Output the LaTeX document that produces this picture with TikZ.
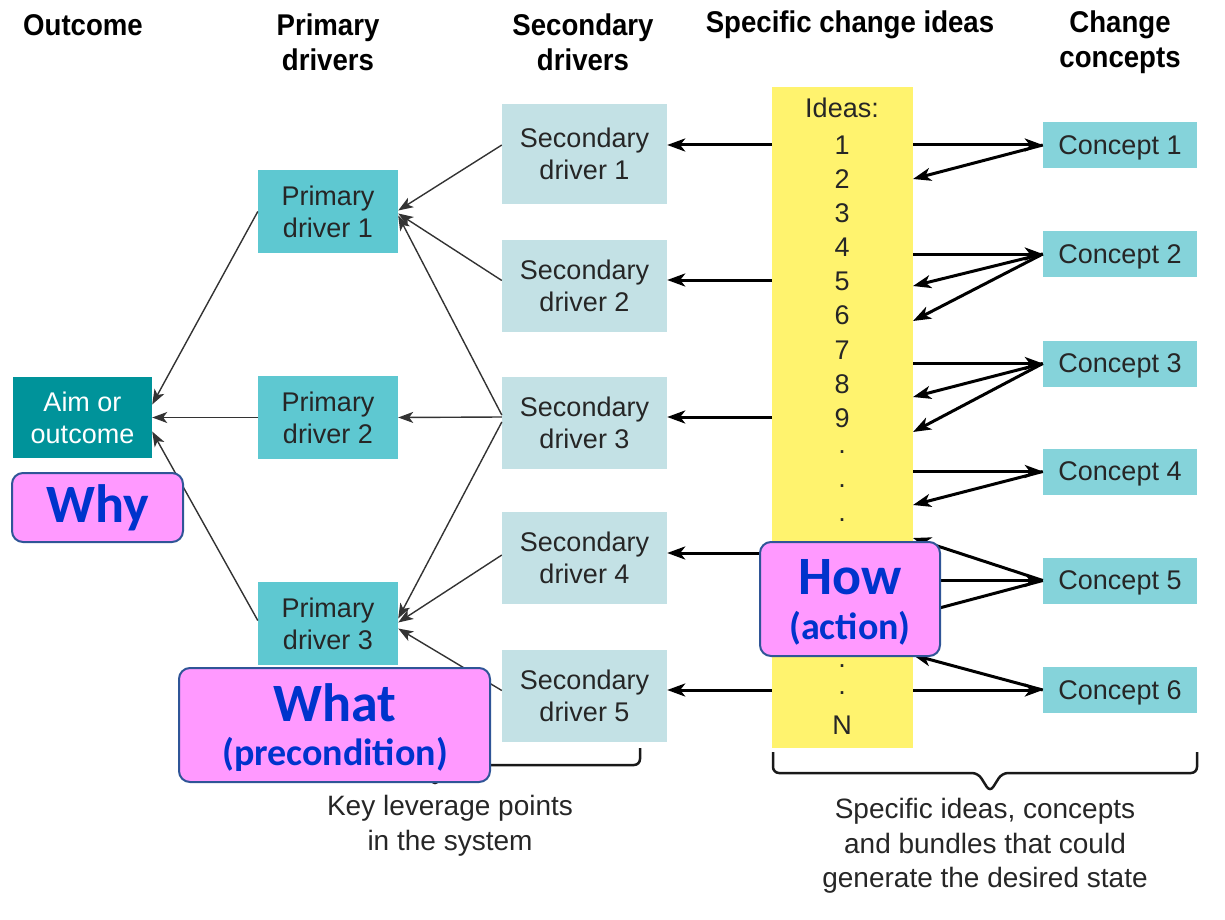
\documentclass[tikz,border=0pt]{standalone}
\usepackage{fontspec}
\setmainfont{Liberation Sans}
\newfontfamily\headfont[FakeStretch=0.92]{Liberation Sans}
\newfontfamily\calloutfont{Carlito}
\usetikzlibrary{arrows.meta}
\definecolor{aimcol}{HTML}{00939A}
\definecolor{primcol}{HTML}{5EC8D1}
\definecolor{seccol}{HTML}{C3E1E5}
\definecolor{conccol}{HTML}{85D3DA}
\definecolor{ideacol}{HTML}{FFF36E}
\definecolor{pinkfill}{HTML}{FF99FF}
\definecolor{pinkedge}{HTML}{2F5597}
\definecolor{calloutblue}{HTML}{0033CC}
\definecolor{boxtext}{HTML}{262626}
\begin{document}
\begin{tikzpicture}[x=1pt,y=-1pt,
  boxbase/.style={inner sep=0pt, align=center, text=boxtext,
    font=\fontsize{27}{32}\selectfont},
  aimbox/.style={boxbase, fill=aimcol, text=white, minimum width=139pt, minimum height=81pt},
  prim/.style={boxbase, fill=primcol, minimum width=140pt, minimum height=83pt},
  sec/.style={boxbase, fill=seccol, minimum width=165pt, minimum height=92pt},
  conc/.style={boxbase, fill=conccol, minimum width=154pt, minimum height=46pt, text depth=0pt},
  head/.style={align=center, inner sep=0pt, font=\headfont\bfseries\fontsize{30}{35}\selectfont},
  num/.style={inner sep=0pt, text=boxtext, font=\fontsize{27}{32}\selectfont},
  note/.style={align=center, inner sep=0pt, text=boxtext, font=\fontsize{28}{34.5}\selectfont},
  thinarrow/.style={draw=black!80, line width=1.4pt, -{Stealth[length=15pt,width=11pt,inset=4pt]}},
  thickarrow/.style={draw=black, line width=3pt, -{Stealth[length=18pt,width=13pt,inset=5pt]}},
  brace/.style={draw=black!90, line width=2.5pt, rounded corners=6pt},
  callout/.style={fill=pinkfill, draw=pinkedge, line width=2pt, rounded corners=11pt, inner sep=0pt},
  bigword/.style={inner sep=0pt, text=calloutblue, font=\calloutfont\bfseries\fontsize{54}{60}\selectfont},
  smallword/.style={inner sep=0pt, text=calloutblue, font=\calloutfont\bfseries\fontsize{38}{44}\selectfont}
]
\useasboundingbox (0,0) rectangle (1225,920);

% column headings
\node[head] (hOut)   at (83,25)   {Outcome};
\node[head] (hPrim)  at (328,42)  {Primary\\drivers};
\node[head] (hSec)   at (583,42)  {Secondary\\drivers};
\node[head] (hIdeas) at (850,25)  {Specific change ideas};
\node[head] (hConc)  at (1120,42) {Change\\concepts};

% outcome and drivers
\node[aimbox] (aim) at (82.5,417.5) {Aim or\\outcome};
\node[prim] (p1) at (328,211.5) {Primary\\driver 1};
\node[prim] (p2) at (328,417.5) {Primary\\driver 2};
\node[prim] (p3) at (328,623.5) {Primary\\driver 3};
\node[sec, minimum height=100pt] (s1) at (584.5,154) {Secondary\\driver 1};
\node[sec] (s2) at (584.5,285.5) {Secondary\\driver 2};
\node[sec] (s3) at (584.5,423)   {Secondary\\driver 3};
\node[sec] (s4) at (584.5,558)   {Secondary\\driver 4};
\node[sec] (s5) at (584.5,695.5) {Secondary\\driver 5};

% column of change ideas (the dots behind the "How" callout are left out)
\node[fill=ideacol, inner sep=0pt, minimum width=141pt, minimum height=661pt] (ideas) at (842.5,417.5) {};
\node[num] (n0) at (842,108) {Ideas:};
\foreach \t [count=\i] in {1,2,3,4,5,6,7,8,9,.,.,.}
  \node[num] (n\i) at (842,145+34.12*\i-34.12) {\t};
\node[num] (n16) at (842,666) {.};
\node[num] (n17) at (842,693) {.};
\node[num] (n18) at (842,725) {N};

% change concepts
\node[conc] (c1) at (1120,145)   {Concept 1};
\node[conc] (c2) at (1120,254)   {Concept 2};
\node[conc] (c3) at (1120,363.5) {Concept 3};
\node[conc] (c4) at (1120,471.5) {Concept 4};
\node[conc] (c5) at (1120,580.5) {Concept 5};
\node[conc] (c6) at (1120,690)   {Concept 6};

% secondary -> primary -> outcome
\draw[thinarrow] ([yshift=9pt]s1.west) -- ([yshift=1pt]p1.east);
\draw[thinarrow] ([yshift=5pt]s2.west) -- ([yshift=-2pt]p1.east);
\draw[thinarrow] ([yshift=8pt]s3.west) -- ([yshift=-4pt]p1.east);
\draw[thinarrow] ([yshift=6pt]s3.west) -- (p2.east);
\draw[thinarrow] ([yshift=1pt]s3.west) -- ([yshift=5pt]p3.east);
\draw[thinarrow] ([yshift=3pt]s4.west) -- ([yshift=1pt]p3.east);
\draw[thinarrow] ([yshift=5pt]s5.west) -- ([yshift=-5pt]p3.east);
\draw[thinarrow] (p1.west) -- ([yshift=13pt]aim.east);
\draw[thinarrow] (p2.west) -- (aim.east);
\draw[thinarrow] ([yshift=3pt]p3.west) -- ([yshift=-14pt]aim.east);

% ideas -> secondary drivers
\coordinate (w1) at (772,145);
\coordinate (w2) at (772,280);
\coordinate (w3) at (772,417);
\coordinate (w4) at (772,553);
\coordinate (w5) at (772,690);
\draw[thickarrow] (w1) -- (s1.east |- w1);
\draw[thickarrow] (w2) -- (s2.east |- w2);
\draw[thickarrow] (w3) -- (s3.east |- w3);
\draw[thickarrow] (w4) -- (s4.east |- w4);
\draw[thickarrow] (w5) -- (s5.east |- w5);

% ideas <-> concepts
\coordinate (ta) at (913,179);
\coordinate (tb) at (913,286);
\coordinate (tc) at (913,321);
\coordinate (td) at (913,397);
\coordinate (te) at (913,432);
\coordinate (tf) at (913,505);
\coordinate (tg) at (913,538);
\coordinate (th) at (913,615);
\coordinate (ti) at (913,655);
\draw[thickarrow] (ideas.east |- c1) -- (c1.west);
\draw[thickarrow] (c1.west) -- (ta);
\draw[thickarrow] (ideas.east |- c2) -- (c2.west);
\draw[thickarrow] (c2.west) -- (tb);
\draw[thickarrow] (c2.west) -- (tc);
\draw[thickarrow] (ideas.east |- c3) -- (c3.west);
\draw[thickarrow] (c3.west) -- (td);
\draw[thickarrow] (c3.west) -- (te);
\draw[thickarrow] (ideas.east |- c4) -- (c4.west);
\draw[thickarrow] (c4.west) -- (tf);
\draw[thickarrow] (ideas.east |- c5) -- (c5.west);
\draw[thickarrow] (c5.west) -- (tg);
\draw[thickarrow] (c5.west) -- (th);
\draw[thickarrow] (ideas.east |- c6) -- (c6.west);
\draw[thickarrow] (c6.west) -- (ti);

% braces and their notes
\draw[brace] (230,748) -- (230,765) -- (423,765) -- (435,786) -- (447,765) -- (640,765) -- (640,748);
\node[note] (keynote) at (450,826) {Key leverage points\\in the system};
\draw[brace] (773,752) -- (773,773) -- (978,773) -- (990,792) -- (1002,773) -- (1197,773) -- (1197,752);
\node[note] (ideanote) at (985,846) {Specific ideas, concepts\\and bundles that could\\generate the desired state};

% callouts
\node[callout, minimum width=171pt, minimum height=69pt] (why) at (97.5,507.5) {};
\node[bigword] (whyt) at (why.center) {Why};
\node[callout, minimum width=311pt, minimum height=114pt] (what) at (334.5,725) {};
\node[bigword] (whatt) at (335,703) {What};
\node[smallword] (whats) at (335,754) {(precondition)};
\node[callout, minimum width=180pt, minimum height=114pt] (how) at (850,599) {};
\node[bigword] (howt) at (850,577) {How};
\node[smallword] (hows) at (850,628) {(action)};
\end{tikzpicture}
\end{document}
